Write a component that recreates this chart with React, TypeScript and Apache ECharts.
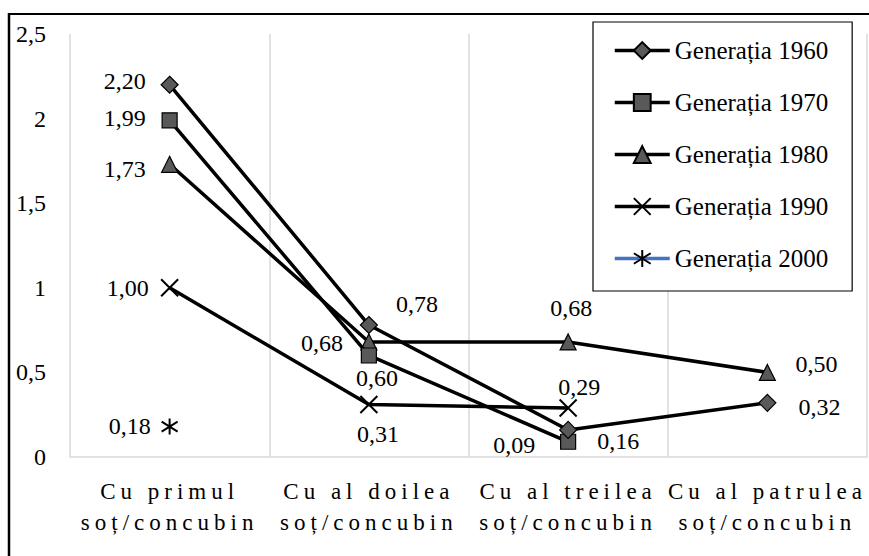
import React, { useEffect, useRef } from 'react';
import * as echarts from 'echarts';

const categories = [
  'Cu primul\nsoț/concubin',
  'Cu al doilea\nsoț/concubin',
  'Cu al treilea\nsoț/concubin',
  'Cu al patrulea\nsoț/concubin',
];
const seriesNames = ['Generația 1960', 'Generația 1970', 'Generația 1980', 'Generația 1990', 'Generația 2000'];
const gen1960 = [2.2, 0.78, 0.16, 0.32];
const gen1970 = [1.99, 0.6, 0.09, null];
const gen1980 = [1.73, 0.68, 0.68, 0.5];
const gen1990 = [1.0, 0.31, 0.29, null];
const gen2000 = [0.18, null, null, null];
const Y_MIN = 0;
const Y_MAX = 2.5;
const Y_STEP = 0.5;

// label placement (presentation only)
const labelOffsets: (number[] | null)[][] = [
  [[-45, -4], [48, -21], [50, 11], [52, 4]],
  [[-45, -2], [8, 23], [-54, 3], null],
  [[-45, 5], [-47, 1], [3, -34], [49, -8]],
  [[-42, 0], [9, 29], [11, -21], null],
  [[-40, -1], null, null, null],
];

const CROSS = 'path://M0,0L16,16M16,0L0,16';
const STAR = 'path://M8,0L8,16M1,3L15,13M15,3L1,13';

const FONT = 'Liberation Serif';
const fmt = (v: number) => v.toFixed(2).replace('.', ',');

export default function App() {
  const ref = useRef<HTMLDivElement>(null);
  useEffect(() => {
    if (!ref.current) return;
    const chart = echarts.init(ref.current, undefined, { renderer: 'svg' });
    const values = [gen1960, gen1970, gen1980, gen1990, gen2000];
    const symbols = ['diamond', 'rect', 'triangle', CROSS, STAR];
    const sizes = [17, 15, 16, 17, 16];
    const series = values.map((arr, si) => {
      const pathSym = si >= 3;
      return {
        name: seriesNames[si],
        type: 'line',
        symbol: symbols[si],
        symbolSize: sizes[si],
        connectNulls: false,
        z: 5 - si,
        lineStyle: { color: si === 4 ? '#4472C4' : '#000', width: 3.5 },
        itemStyle: pathSym
          ? { color: '#000', borderColor: '#000', borderWidth: 2 }
          : { color: '#595959', borderColor: '#000', borderWidth: 1.2 },
        data: arr.map((v, i) => {
          if (v === null) return null;
          const off = labelOffsets[si][i] || [0, 0];
          return {
            value: v,
            label: {
              show: true,
              position: 'inside',
              offset: off,
              formatter: () => fmt(v),
              fontFamily: FONT,
              fontSize: 24,
              color: '#000',
            },
          };
        }),
      };
    });
    chart.setOption({
      animation: false,
      backgroundColor: '#fff',
      grid: { left: 70, right: 2, top: 34, bottom: 99, containLabel: false },
      legend: {
        orient: 'vertical',
        left: 593,
        top: 22,
        data: seriesNames,
        itemWidth: 55,
        itemHeight: 21,
        itemGap: 27,
        padding: [16, 24, 20, 20],
        borderColor: '#000',
        borderWidth: 1.2,
        backgroundColor: '#fff',
        lineStyle: { width: 3.5 },
        textStyle: { fontFamily: FONT, fontSize: 25, color: '#000' },
        z: 10,
      },
      xAxis: {
        type: 'category',
        data: categories,
        boundaryGap: true,
        axisLine: { lineStyle: { color: '#d9d9d9', width: 1.5 } },
        axisTick: { show: false },
        splitLine: { show: true, lineStyle: { color: '#d9d9d9', width: 1.5 } },
        axisLabel: {
          interval: 0,
          margin: 19,
          fontFamily: 'XLab, Liberation Serif',
          fontSize: 23,
          lineHeight: 31,
          color: '#000',
        },
      },
      yAxis: {
        type: 'value',
        min: Y_MIN,
        max: Y_MAX,
        interval: Y_STEP,
        axisLine: { show: false },
        axisTick: { show: false },
        splitLine: { show: false },
        axisLabel: {
          margin: 24,
          fontFamily: FONT,
          fontSize: 24,
          color: '#000',
          formatter: (v: number) => String(v).replace('.', ','),
        },
      },
      graphic: [
        { type: 'line', shape: { x1: 8, y1: 14, x2: 869, y2: 14 }, style: { stroke: '#000', lineWidth: 2 }, z: 0 },
        { type: 'line', shape: { x1: 9, y1: 13, x2: 9, y2: 556 }, style: { stroke: '#000', lineWidth: 2.5 }, z: 0 },
      ],
      series,
    });
    return () => chart.dispose();
  }, []);
  return (
    <>
      <style>{`body{margin:0} text[style*="XLab"]{letter-spacing:5px}`}</style>
      <div ref={ref} style={{ position: 'fixed', left: 0, top: 0, width: 869, height: 556 }} />
    </>
  );
}
